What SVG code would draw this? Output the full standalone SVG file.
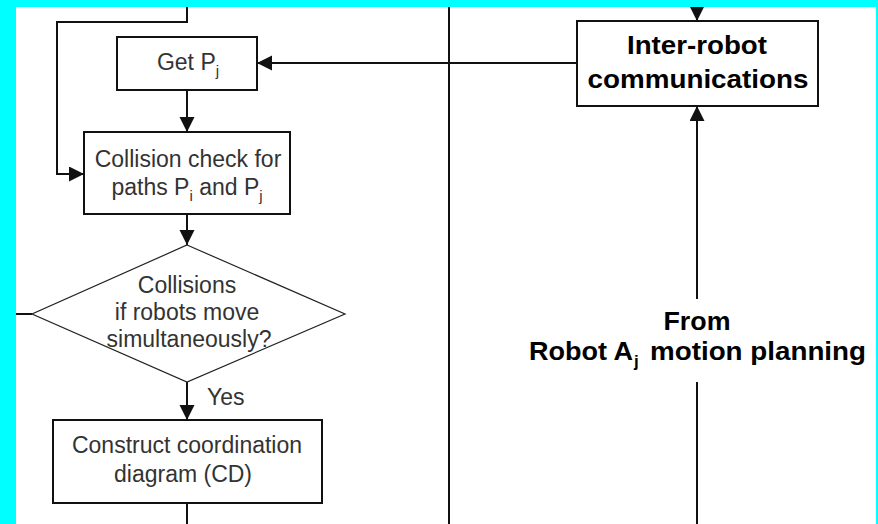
<svg xmlns="http://www.w3.org/2000/svg" width="878" height="524" viewBox="0 0 878 524">
<style>
.box{fill:#fff;stroke:#111;stroke-width:2}
.dia{fill:#fff;stroke:#222;stroke-width:1.2}
.ln{fill:none;stroke:#111;stroke-width:2}
.t{font-family:"Liberation Sans",Arial,sans-serif;font-size:23px;fill:#333;text-anchor:middle}
.b{font-family:"Liberation Sans",Arial,sans-serif;font-size:26px;font-weight:bold;fill:#000;text-anchor:middle}
.sub{font-size:15px}
.bsub{font-size:17px}
</style>
<defs>
<marker id="ah" markerUnits="userSpaceOnUse" markerWidth="16" markerHeight="16" refX="15" refY="7.5" orient="auto">
<path d="M0,0 L15,7.5 L0,15 z" fill="#111"/>
</marker>
</defs>
<rect x="0" y="0" width="878" height="524" fill="#fff"/>
<g id="connectors">
<path class="ln" d="M187,0 V22 H57 V174 H84" marker-end="url(#ah)"/>
<path class="ln" d="M577,63 H257" marker-end="url(#ah)"/>
<path class="ln" d="M187,90 V132" marker-end="url(#ah)"/>
<path class="ln" d="M187,214 V245" marker-end="url(#ah)"/>
<path class="ln" d="M187,382 V420" marker-end="url(#ah)"/>
<path class="ln" d="M187,503 V524"/>
<path class="ln" d="M32,314 H14"/>
<path class="ln" d="M449,0 V524"/>
<path class="ln" d="M697,0 V21" marker-end="url(#ah)"/>
<path class="ln" d="M697,299 V106" marker-end="url(#ah)"/>
<path class="ln" d="M697,382 V524"/>
<text class="t" x="207" y="405" style="text-anchor:start">Yes</text>
</g>
<g id="get">
<rect class="box" x="117" y="37" width="140" height="53"/>
<text class="t" x="188" y="70">Get P<tspan class="sub" dy="6">j</tspan></text>
</g>
<g id="collision">
<rect class="box" x="84" y="132" width="206" height="82"/>
<text class="t" x="188" y="167">Collision check for</text>
<text class="t" x="187" y="195">paths P<tspan class="sub" dy="6">i</tspan><tspan dy="-6"> and P</tspan><tspan class="sub" dy="6">j</tspan></text>
</g>
<g id="decision">
<polygon class="dia" points="187,245 345,314 187,382 32,314"/>
<text class="t" x="187" y="293">Collisions</text>
<text class="t" x="187" y="320">if robots move</text>
<text class="t" x="189" y="347">simultaneously?</text>
</g>
<g id="construct">
<rect class="box" x="53" y="420" width="269" height="83"/>
<text class="t" x="187" y="453">Construct coordination</text>
<text class="t" x="183" y="482">diagram (CD)</text>
</g>
<g id="inter">
<rect class="box" x="577" y="21" width="241" height="85"/>
<text class="b" x="697" y="54" textLength="140" lengthAdjust="spacingAndGlyphs">Inter-robot</text>
<text class="b" x="698" y="88" textLength="221" lengthAdjust="spacingAndGlyphs">communications</text>
</g>
<g id="from">
<text class="b" x="697" y="330" textLength="67" lengthAdjust="spacingAndGlyphs">From</text>
<text class="b" x="529" y="360" style="text-anchor:start" textLength="104" lengthAdjust="spacingAndGlyphs">Robot A</text>
<text class="b bsub" x="634" y="367" style="text-anchor:start">j</text>
<text class="b" x="650" y="360" style="text-anchor:start" textLength="216" lengthAdjust="spacingAndGlyphs">motion planning</text>
</g>
<path fill="#00ffff" fill-rule="evenodd" d="M0,0 H878 V524 H0 Z M16,7 V524 H876 V7 Z"/>
</svg>
